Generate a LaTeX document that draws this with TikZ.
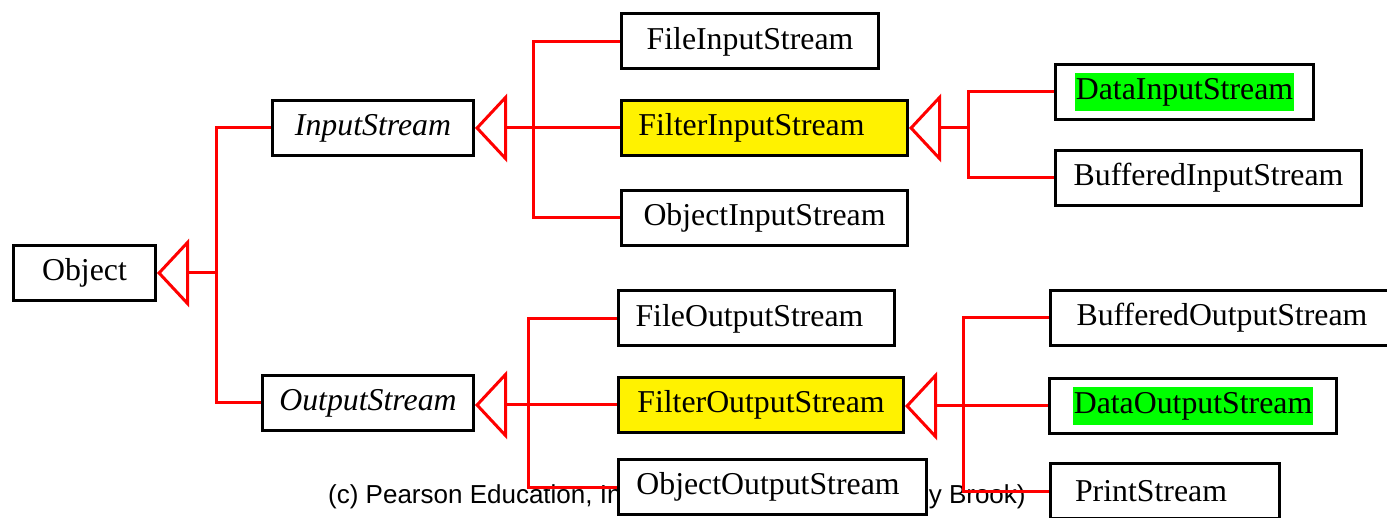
\documentclass[tikz,border=0pt]{standalone}
\usepackage{fontspec}
\setmainfont{Liberation Serif}
\newfontfamily\notefont{Liberation Sans}
\usetikzlibrary{arrows.meta}

\tikzset{
  cls/.style={draw, line width=3pt, fill=white, inner sep=0pt, minimum height=55pt,
    font=\fontsize{31.8}{36}\selectfont},
  abscls/.style={cls, font=\fontsize{31.8}{36}\selectfont\itshape},
  filtcls/.style={cls, fill=yellow},
  link/.style={red, line width=3pt},
  isa/.style={link, -{Triangle[open, length=32pt, width=68pt]}},
}
\newcommand{\hl}[1]{{\setlength{\fboxsep}{1pt}\colorbox{green}{\strut #1}}}
\newcommand{\padr}[1]{\hspace{#1}\mbox{}}

\begin{document}
\begin{tikzpicture}[x=1pt, y=-1pt]
\useasboundingbox (0,0) rectangle (1387,518);
\clip (0,0) rectangle (1387,518);

% footer, partly hidden
\node[font=\notefont\fontsize{26}{30}\selectfont, anchor=base west, inner sep=0pt] (note) at (328,503)
  {(c) Pearson Education, Inc. All rights reserved (Stony Brook)};

% classes
\node[cls, minimum width=142pt] (object) at (84.5,273) {Object};
\node[abscls, minimum width=201pt] (instream) at (373,128) {InputStream};
\node[abscls, minimum width=211pt] (outstream) at (368,403) {OutputStream};

\node[cls, minimum width=257pt] (fileis) at (750,41.5) {FileInputStream};
\node[filtcls, minimum width=286pt] (filteris) at (764.5,128) {FilterInputStream\padr{26pt}};
\node[cls, minimum width=286pt] (objectis) at (764.5,218) {ObjectInputStream};

\node[cls, minimum width=276pt] (fileos) at (756.5,318.5) {FileOutputStream\padr{14pt}};
\node[filtcls, minimum width=285pt] (filteros) at (761,405) {FilterOutputStream};
\node[cls, minimum width=308pt] (objectos) at (772.5,487) {ObjectOutputStream\padr{9pt}};

\node[cls, minimum width=258pt] (datais) at (1184.5,92) {\hl{DataInputStream}};
\node[cls, minimum width=306pt] (bufferedis) at (1208.5,178) {BufferedInputStream};

\node[cls, minimum width=343pt] (bufferedos) at (1222,318) {BufferedOutputStream};
\node[cls, minimum width=287pt] (dataos) at (1193,406) {\hl{DataOutputStream}};
\node[cls, minimum width=229pt] (prints) at (1165,491) {PrintStream\padr{28pt}};

% Object
\coordinate (objbus) at (216,273);
\draw[isa] (objbus) -- (object.east);
\draw[link] (instream.west) -| (objbus) |- (outstream.west);

% InputStream
\coordinate (isbus) at (533,128);
\draw[isa] (filteris.west) -- (instream.east);
\draw[link] (fileis.west) -| (isbus) |- (objectis.west);
\coordinate (fisbus) at (968,128);
\draw[isa] (fisbus) -- (filteris.east);
\draw[link] (datais.west) -| (fisbus) |- (bufferedis.west);

% OutputStream
\coordinate (osbus) at (528,405);
\draw[isa] (filteros.west) -- (filteros.west -| outstream.east);
\draw[link] (fileos.west) -| (osbus) |- (objectos.west);
\coordinate (fosbus) at (963,405);
\draw[isa] (dataos.west) -- (dataos.west -| filteros.east);
\draw[link] (bufferedos.west) -| (fosbus) |- (prints.west);
\end{tikzpicture}
\end{document}
